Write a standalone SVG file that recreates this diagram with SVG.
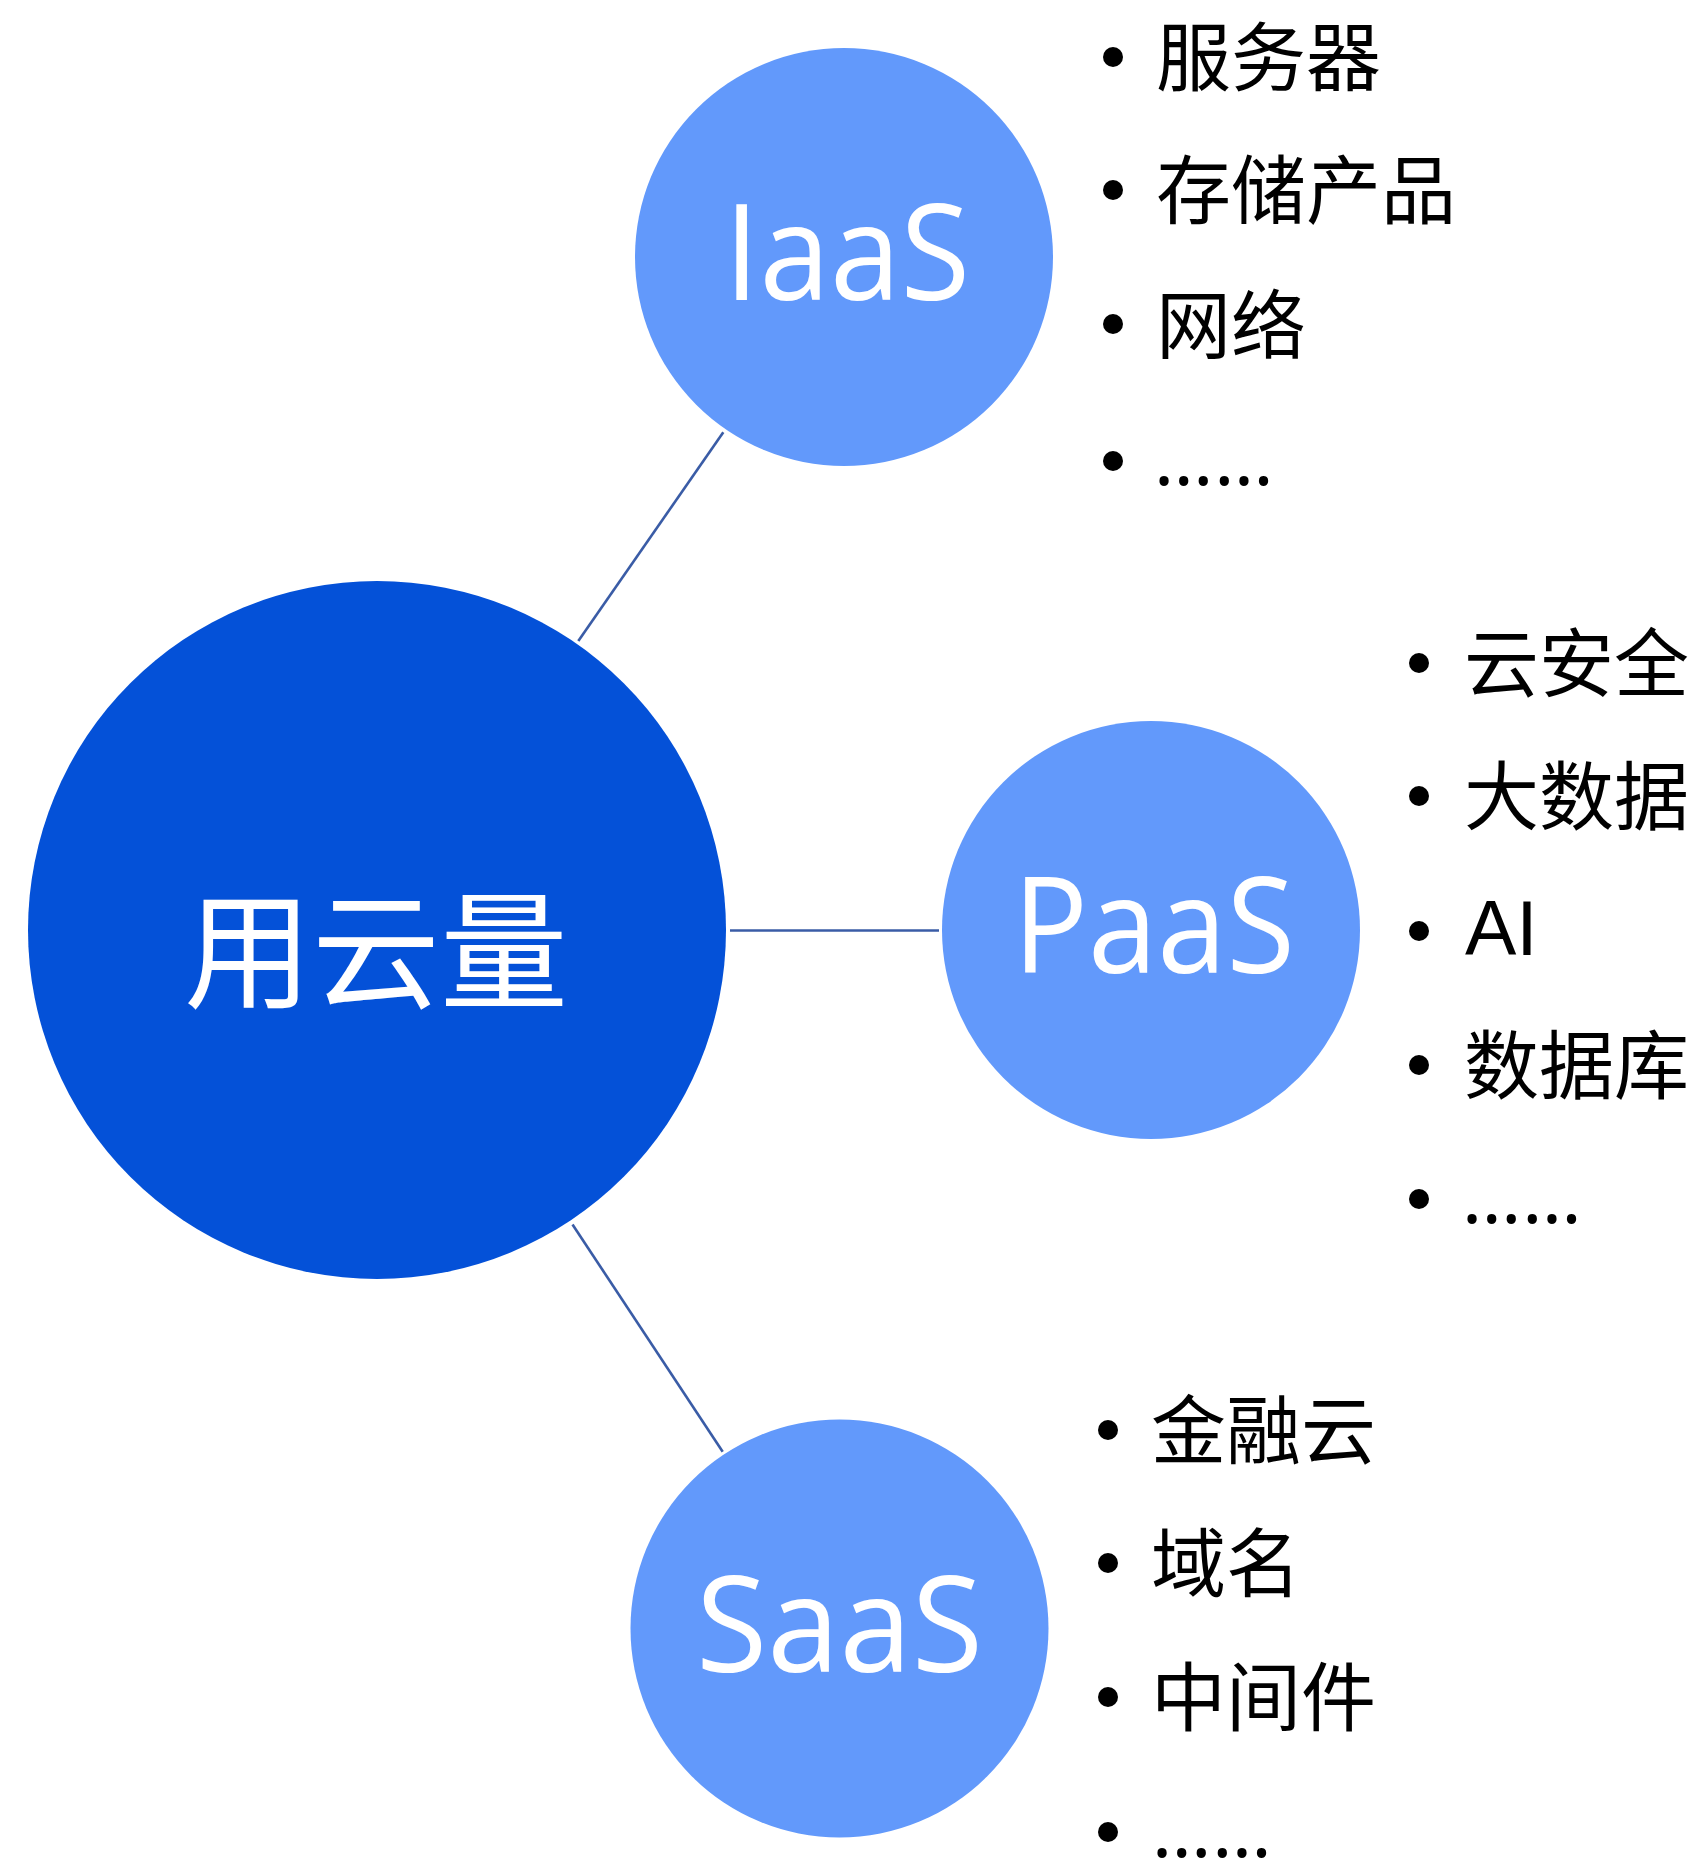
<svg xmlns="http://www.w3.org/2000/svg" width="1701" height="1859" viewBox="0 0 1701 1859">
<style>
.main{fill:#0451D8;}
.sub{fill:#6299FB;}
.lbl{fill:#FFFFFF;text-anchor:middle;}
.lat{font-family:"Open Sans","Noto Sans","Liberation Sans",sans-serif;font-size:134px;}
.cjk{font-family:"Noto Sans CJK SC","Noto Sans",sans-serif;}
.item{font-family:"Noto Sans CJK SC","Noto Sans",sans-serif;font-size:75px;fill:#000000;}
.dots{font-family:"Noto Sans","Liberation Sans",sans-serif;font-size:75px;fill:#000000;letter-spacing:1px;}
.ai{font-family:"Liberation Sans","Noto Sans",sans-serif;font-size:77px;fill:#000000;}
.bul{fill:#000000;}
.conn{stroke:#3A5CA6;stroke-width:2.6;fill:none;}
</style>
<rect width="1701" height="1859" fill="#FFFFFF"/>
<g id="connectors">
<line class="conn" x1="578.3" y1="641" x2="723.3" y2="432.3"/>
<line class="conn" x1="730" y1="930.5" x2="939" y2="930.5"/>
<line class="conn" x1="572.5" y1="1224.5" x2="722.7" y2="1451.7"/>
</g>
<g id="node-main">
<circle class="main" cx="377" cy="930" r="349"/>
<text class="lbl cjk" x="376" y="999" font-size="128">用云量</text>
</g>
<g id="node-iaas">
<circle class="sub" cx="844" cy="257" r="209"/>
<text class="lbl lat" x="847" y="300" textLength="246" lengthAdjust="spacingAndGlyphs">IaaS</text>
</g>
<g id="node-paas">
<circle class="sub" cx="1151" cy="930" r="209"/>
<text class="lbl lat" x="1154" y="973" textLength="282" lengthAdjust="spacingAndGlyphs">PaaS</text>
</g>
<g id="node-saas">
<circle class="sub" cx="839.5" cy="1628.5" r="209"/>
<text class="lbl lat" x="839.5" y="1672" textLength="287" lengthAdjust="spacingAndGlyphs">SaaS</text>
</g>
<g id="list-iaas">
<circle class="bul" cx="1113" cy="57" r="10"/>
<circle class="bul" cx="1113" cy="190" r="10"/>
<circle class="bul" cx="1113" cy="324" r="10"/>
<circle class="bul" cx="1113" cy="461" r="10"/>
<text class="item" x="1156" y="85">服务器</text>
<text class="item" x="1156" y="218">存储产品</text>
<text class="item" x="1156" y="353">网络</text>
<text class="dots" x="1154" y="485">……</text>
</g>
<g id="list-paas">
<circle class="bul" cx="1419" cy="663" r="10"/>
<circle class="bul" cx="1419" cy="796" r="10"/>
<circle class="bul" cx="1419" cy="931" r="10"/>
<circle class="bul" cx="1419" cy="1065" r="10"/>
<circle class="bul" cx="1419" cy="1199" r="10"/>
<text class="item" x="1464" y="691">云安全</text>
<text class="item" x="1464" y="824">大数据</text>
<text class="ai" x="1465" y="955">AI</text>
<text class="item" x="1464" y="1093">数据库</text>
<text class="dots" x="1462" y="1223">……</text>
</g>
<g id="list-saas">
<circle class="bul" cx="1108" cy="1430" r="10"/>
<circle class="bul" cx="1108" cy="1563" r="10"/>
<circle class="bul" cx="1108" cy="1697" r="10"/>
<circle class="bul" cx="1108" cy="1832" r="10"/>
<text class="item" x="1151" y="1458">金融云</text>
<text class="item" x="1151" y="1591">域名</text>
<text class="item" x="1151" y="1725">中间件</text>
<text class="dots" x="1152" y="1857">……</text>
</g>
</svg>
